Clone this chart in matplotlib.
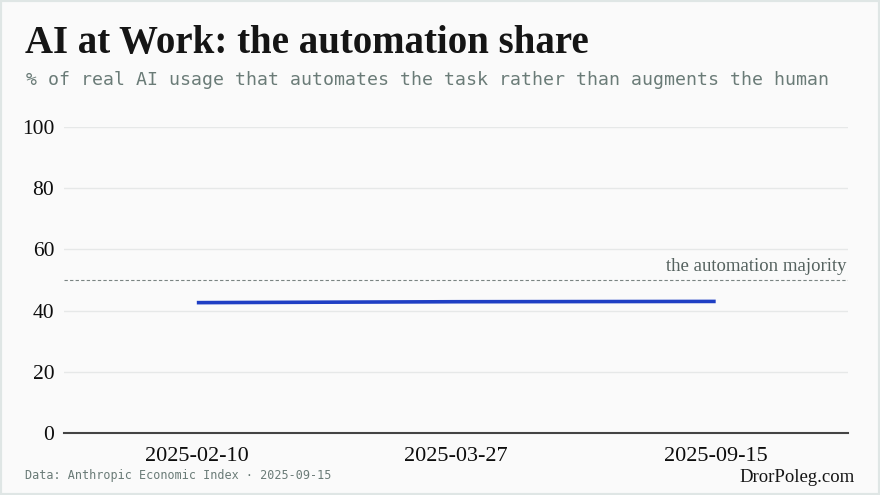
import matplotlib.pyplot as plt
from matplotlib.patches import Rectangle

# Data
dates = ['2025-02-10', '2025-03-27', '2025-09-15']
automation_share = [42.6, 42.9, 43.0]
y_ticks = [0, 20, 40, 60, 80, 100]

bg = '#fafafa'
serif = ['Liberation Serif', 'DejaVu Serif']
mono = ['DejaVu Sans Mono']

fig = plt.figure(figsize=(8.8, 4.95), dpi=100, facecolor=bg)
fig.patches.append(Rectangle((0, 0), 1, 1, transform=fig.transFigure,
                             fill=False, edgecolor='#dfe6e5', linewidth=3))

ax = fig.add_axes([64 / 880, 1 - 433 / 495, (848 - 64) / 880, (433 - 127) / 495])
ax.set_facecolor(bg)

x = list(range(len(dates)))
ax.plot(x, automation_share, color='#1f3fc4', linewidth=2.6, solid_capstyle='butt', zorder=3)

# 50% reference line
ax.axhline(50, color='#7a8482', linewidth=0.8, linestyle=(0, (3, 2)), zorder=2)
ax.text(2.505, 51.5, 'the automation majority', ha='right', va='bottom',
        fontsize=13.5, color='#55625f', family=serif)

ax.set_xlim(-0.512, 2.51)
ax.set_ylim(0, 100)
ax.set_yticks(y_ticks)
ax.set_xticks(x)
ax.set_xticklabels(dates)
ax.grid(axis='y', color='#e6e8e8', linewidth=1)
ax.set_axisbelow(True)
for s in ['top', 'right', 'left']:
    ax.spines[s].set_visible(False)
ax.spines['bottom'].set_color('#444444')
ax.spines['bottom'].set_linewidth(1.5)
ax.tick_params(axis='both', length=0)
ax.tick_params(axis='y', pad=7)
ax.tick_params(axis='x', pad=10)
for lab in ax.get_yticklabels():
    lab.set_family(serif)
    lab.set_fontsize(15.5)
    lab.set_color('#0d0d0d')
for lab in ax.get_xticklabels():
    lab.set_family(serif)
    lab.set_fontsize(16)
    lab.set_color('#0d0d0d')

fig.text(25 / 880, 1 - 44 / 495, 'AI at Work: the automation share', ha='left', va='center',
         fontsize=28, fontweight='bold', color='#151515', family=serif)
fig.text(26 / 880, 1 - 80 / 495,
         '% of real AI usage that automates the task rather than augments the human',
         ha='left', va='center', fontsize=13.15, color='#6a7b77', family=mono)
fig.text(25 / 880, 1 - 476 / 495, 'Data: Anthropic Economic Index \u00b7 2025-09-15',
         ha='left', va='center', fontsize=8.5, color='#6a7b77', family=mono)
fig.text(855 / 880, 1 - 477 / 495, 'DrorPoleg.com', ha='right', va='center',
         fontsize=13.5, color='#151515', family=serif)

fig.savefig('out.png', dpi=100, facecolor=bg)
